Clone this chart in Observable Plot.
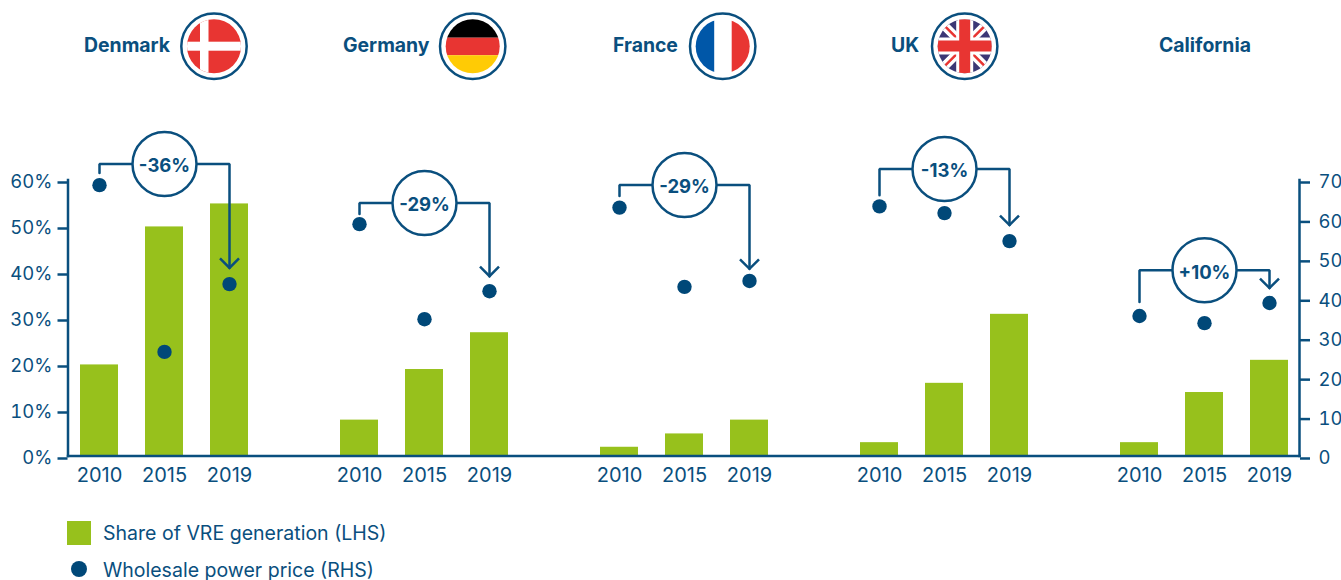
<!DOCTYPE html>
<html>
<head>
<meta charset="utf-8">
<script src="https://cdn.jsdelivr.net/npm/d3@7"></script>
<script src="https://cdn.jsdelivr.net/npm/@observablehq/plot@0.6"></script>
<style>
  html, body { margin: 0; padding: 0; background: #fff; overflow: hidden; }
  body { width: 1341px; height: 580px; position: relative; font-family: Inter, sans-serif; color: #0a4f7e; }
  #chart { position: absolute; left: 0; top: 100px; }
  #chart svg { overflow: visible; display: block; }
  .region { position: absolute; top: 33px; font-size: 19.4px; font-weight: 700; line-height: 24px; white-space: nowrap; }
  .flag { position: absolute; left: 0; top: 0; }
  .leg { position: absolute; left: 103px; font-size: 19.55px; line-height: 24px; white-space: nowrap; }
  .sw { position: absolute; }
</style>
</head>
<body>
<svg class="flag" width="1341" height="100" id="flags"></svg>
<div id="header"></div>
<div id="chart"></div>
<div class="sw" style="left:67px;top:521px;width:24px;height:24px;background:#97c11c"></div>
<div class="leg" style="top:521px">Share of VRE generation (LHS)</div>
<div class="sw" style="left:71px;top:561px;width:16px;height:16px;border-radius:50%;background:#004878"></div>
<div class="leg" style="top:558px">Wholesale power price (RHS)</div>
<script>
const regions = ["Denmark", "Germany", "France", "UK", "California"];
const years = ["2010", "2015", "2019"];
const share = [[19.8, 49.8, 54.8], [7.8, 18.8, 26.8], [1.9, 4.8, 7.8], [2.9, 15.8, 30.8], [2.9, 13.8, 20.8]];
const price = [[68.7, 26.4, 43.6], [58.8, 34.7, 41.8], [63, 42.9, 44.4], [63.3, 61.6, 54.5], [35.5, 33.7, 38.8]];
const changes = ["-36%", "-29%", "-29%", "-13%", "+10%"];
const bracketLevel = [63.5, 55, 58.9, 62.4, 40.4];
const bracketStart = [61.5, 52.6, 56.5, 56.7, 33.5];
const bracketEnd = [40.9, 39.1, 40.7, 50.2, 36.5];
const lhsTicks = [0, 10, 20, 30, 40, 50, 60];
const rhsTicks = [0, 10, 20, 30, 40, 50, 60, 70];

const ink = "#0a4f7e", navy = "#004878", green = "#97c11c";
const key = (r, y) => r + " " + y;
const slots = regions.flatMap((r, i) => [...years.map(y => key(r, y)), ...(i < regions.length - 1 ? ["gap" + i] : [])]);
const rows = regions.flatMap((r, i) => years.map((y, j) => ({ slot: key(r, y), share: share[i][j], price: price[i][j] })));
const toLeft = v => v * 60 / 70;

const brackets = regions.map((r, i) => ({
  region: i,
  points: [
    { x: key(r, years[0]), y: bracketStart[i] },
    { x: key(r, years[0]), y: bracketLevel[i] },
    { x: key(r, years[2]), y: bracketLevel[i] },
    { x: key(r, years[2]), y: bracketEnd[i] }
  ]
}));
const bubbles = regions.map((r, i) => ({ x: key(r, years[1]), y: bracketLevel[i], label: changes[i] }));
const heads = regions.map((r, i) => ({ x: key(r, years[2]), y: bracketEnd[i] }));
const chevron = { draw(ctx, size) { const s = Math.sqrt(size / Math.PI); ctx.moveTo(-s, -s); ctx.lineTo(0, 0); ctx.lineTo(s, -s); } };

const chart = Plot.plot({
  width: 1341, height: 390,
  marginLeft: 67.5, marginRight: 42, marginTop: 79.5, marginBottom: 34.5,
  style: { fontFamily: "Inter, sans-serif", fontSize: "18.5px", color: ink, background: "transparent", overflow: "visible" },
  x: { type: "band", domain: slots, range: [66.4, 1301.4], paddingInner: 0.415, paddingOuter: 0.2075, align: 0.5, axis: null },
  y: { domain: [0, 60], range: [355.5, 79.5], axis: null },
  marks: [
    Plot.barY(rows, { x: "slot", y: "share", fill: green }),
    ...brackets.map(b => Plot.line(b.points, { x: "x", y: "y", stroke: ink, strokeWidth: 2.5, strokeLinejoin: "miter", curve: "linear" })),
    Plot.dot(heads, { x: "x", y: "y", r: 9.5, symbol: chevron, stroke: ink, strokeWidth: 2.5, fill: "none" }),
    Plot.dot(rows, { x: "slot", y: d => toLeft(d.price), r: 7.2, fill: navy }),
    Plot.dot(bubbles, { x: "x", y: "y", r: 32, fill: "white", stroke: ink, strokeWidth: 2.5 }),
    Plot.text(bubbles, { x: "x", y: "y", text: "label", dy: 2.5, fill: ink, fontSize: 18.5, fontWeight: 700, fontFamily: "Inter, sans-serif" }),
    Plot.frame({ anchor: "left", stroke: ink, strokeWidth: 2.5 }),
    Plot.frame({ anchor: "right", stroke: ink, strokeWidth: 2.5 }),
    Plot.frame({ anchor: "bottom", stroke: ink, strokeWidth: 2.5 }),
    Plot.axisY(lhsTicks, { y: d => d, anchor: "left", label: null, tickSize: 10, tickPadding: 5.5, strokeWidth: 2.5, stroke: ink, fill: ink, tickFormat: d => d + "%", dy: 2.5, fontSize: 18.5 }),
    Plot.axisY(rhsTicks, { y: toLeft, anchor: "right", label: null, tickSize: 10, tickPadding: 9, strokeWidth: 2.5, stroke: ink, fill: ink, tickFormat: d => String(d), dy: 2.5, fontSize: 18.5 }),
    Plot.axisX(rows.map(d => d.slot), { anchor: "bottom", label: null, tickSize: 0, tickPadding: 12, fill: ink, tickFormat: d => d.split(" ")[1], fontSize: 20 })
  ]
});
document.getElementById("chart").appendChild(chart);

// Region header labels
const labelLeft = [84, 343, 613, 891, 1159];
const header = document.getElementById("header");
regions.forEach((r, i) => {
  const el = document.createElement("div");
  el.className = "region";
  el.style.left = labelLeft[i] + "px";
  el.textContent = r;
  header.appendChild(el);
});

// Decorative flag badges
const flagDefs = {
  Denmark: { cx: 214, art: c => `<rect x="${c-33}" y="13" width="66" height="66" fill="#e83532"/><rect x="${c-14}" y="13" width="8.5" height="66" fill="#fff"/><rect x="${c-33}" y="41.7" width="66" height="9" fill="#fff"/>` },
  Germany: { cx: 472.7, art: c => `<rect x="${c-33}" y="13" width="66" height="24.7" fill="#000"/><rect x="${c-33}" y="37.7" width="66" height="17.5" fill="#e83532"/><rect x="${c-33}" y="55.2" width="66" height="24" fill="#ffcb05"/>` },
  France: { cx: 722.7, art: c => `<rect x="${c-33}" y="13" width="24.5" height="66" fill="#0057a8"/><rect x="${c+9}" y="13" width="24" height="66" fill="#e83532"/>` },
  UK: { cx: 964.7, art: c => `<rect x="${c-33}" y="13" width="66" height="66" fill="#3c3775"/><path d="M${c-33} 13L${c+33} 79M${c+33} 13L${c-33} 79" stroke="#fff" stroke-width="9"/><path d="M${c-33} 13L${c+33} 79M${c+33} 13L${c-33} 79" stroke="#e83532" stroke-width="2.5"/><path d="M${c} 13V79M${c-33} 46H${c+33}" stroke="#fff" stroke-width="17"/><path d="M${c} 13V79M${c-33} 46H${c+33}" stroke="#e83532" stroke-width="11"/>` }
};
let flagSvg = "";
Object.entries(flagDefs).forEach(([name, f], i) => {
  flagSvg += `<clipPath id="c${i}"><circle cx="${f.cx}" cy="46.3" r="27"/></clipPath><g clip-path="url(#c${i})">${f.art(f.cx)}</g><circle cx="${f.cx}" cy="46.3" r="32.7" fill="none" stroke="${ink}" stroke-width="2.5"/>`;
});
document.getElementById("flags").innerHTML = flagSvg;
</script>
</body>
</html>
